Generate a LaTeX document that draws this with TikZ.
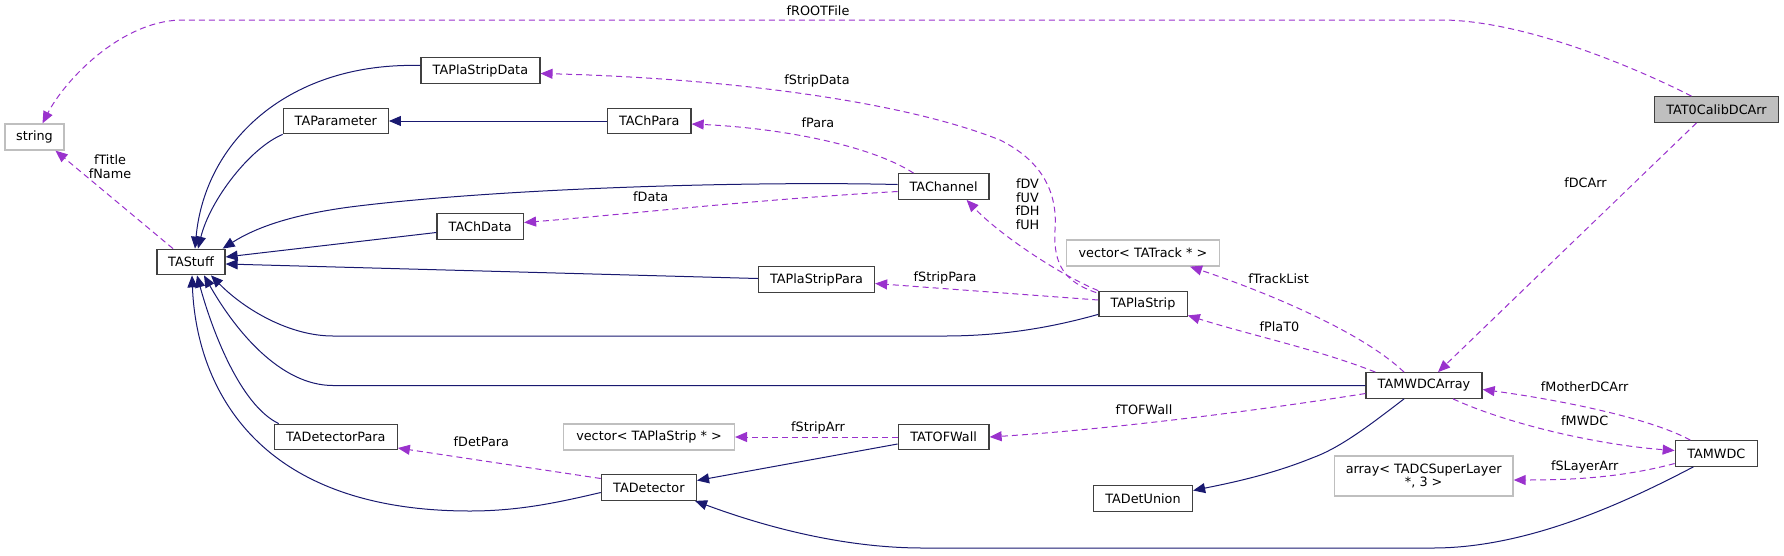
\documentclass[tikz,border=0pt]{standalone}
\usepackage{fontspec}
\setmainfont{DejaVu Sans}
\usetikzlibrary{arrows.meta,calc}
\definecolor{inhcol}{HTML}{191970}
\definecolor{usecol}{HTML}{9A32CD}
\definecolor{extcol}{HTML}{BFBFBF}
\definecolor{boxcol}{HTML}{404040}
\begin{document}
\begin{tikzpicture}[x=1pt,y=-1pt,
  every node/.style={font=\fontsize{12.8}{14.5}\selectfont, inner sep=0pt, align=center},
  cls/.style={draw=boxcol, line width=1.3pt, minimum height=25.5pt, fill=white},
  ext/.style={draw=extcol, line width=1.3pt, minimum height=26pt, fill=white},
  inh/.style={draw=inhcol, line width=1pt, -{Triangle[length=12pt,width=10pt]}, inhcol},
  use/.style={draw=usecol, line width=1pt, dash pattern=on 6pt off 4pt, -{Triangle[length=12pt,width=10pt]}, usecol},
  lbl/.style={text=black, align=center}]
\useasboundingbox (0,0) rectangle (1784,555);
% nodes
\node[ext, minimum width=59pt] (string) at (34.5,137) {string};
\node[cls, minimum width=68pt] (TAStuff) at (191,262) {TAStuff};
\node[cls, minimum width=119pt] (TAPlaStripData) at (480.4,70.5) {TAPlaStripData};
\node[cls, minimum width=105pt] (TAParameter) at (335.8,121) {TAParameter};
\node[cls, minimum width=83.4pt] (TAChPara) at (649.3,121) {TAChPara};
\node[cls, minimum width=90.8pt] (TAChannel) at (943.6,186.5) {TAChannel};
\node[cls, minimum width=86.5pt] (TAChData) at (480.2,226.5) {TAChData};
\node[cls, minimum width=116pt] (TAPlaStripPara) at (816.5,279.5) {TAPlaStripPara};
\node[cls, minimum width=88.3pt] (TAPlaStrip) at (1143,304) {TAPlaStrip};
\node[ext, minimum width=153.5pt] (vecTrack) at (1143,253) {vector< TATrack * >};
\node[cls, minimum width=90.8pt] (TATOFWall) at (943.6,437) {TATOFWall};
\node[ext, minimum width=170.8pt] (vecPlaStrip) at (649,437) {vector< TAPlaStrip * >};
\node[cls, minimum width=95pt] (TADetector) at (648.9,487.5) {TADetector};
\node[cls, minimum width=122.8pt] (TADetectorPara) at (335.8,437) {TADetectorPara};
\node[cls, minimum width=99pt] (TADetUnion) at (1143,498.5) {TADetUnion};
\node[cls, minimum width=116pt] (TAMWDCArray) at (1424,385.5) {TAMWDCArray};
\node[cls, minimum width=82pt] (TAMWDC) at (1716.3,453.5) {TAMWDC};
\node[ext, minimum width=178.7pt, minimum height=40pt] (array) at (1423.7,476) {array< TADCSuperLayer\\[-1pt]*, 3 >};
\node[cls, fill=extcol, minimum width=124.5pt] (TAT0) at (1716.5,109.5) {TAT0CalibDCArr};
% inheritance edges
\draw[inh] ($(TAPlaStripData.west)+(0,-5)$) .. controls (290,62) and (205,140) .. ($(TAStuff.north)+(4,0)$);
\draw[inh] (TAParameter.south west) .. controls (250,148) and (210,200) .. ($(TAStuff.north)+(7,0)$);
\draw[inh] (TAChPara.west) -- (TAParameter.east);
\draw[inh] ($(TAChannel.west)+(0,-2)$) .. controls (750,181) and (500,188) .. (350,207) .. controls (290,215) and (255,228) .. ($(TAStuff.north east)+(-3,0)$);
\draw[inh] ($(TAChData.west)+(0,6)$) -- ($(TAStuff.east)+(0,-5)$);
\draw[inh] ($(TAPlaStripPara.west)+(0,-1)$) -- ($(TAStuff.east)+(0,2)$);
\draw[inh] ($(TAPlaStrip.south west)+(0,-3)$) .. controls (1060,325) and (1010,336) .. (944,336) -- (333,336) .. controls (290,336) and (245,310) .. ($(TAStuff.south)+(20,0)$);
\draw[inh] (TAMWDCArray.west) -- (333,385.5) .. controls (280,385.5) and (235,330) .. ($(TAStuff.south)+(13,0)$);
\draw[inh] ($(TADetectorPara.north west)+(5,0)$) .. controls (240,405) and (212,330) .. ($(TAStuff.south)+(6,0)$);
\draw[inh] ($(TADetector.west)+(0,5)$) .. controls (560,502) and (520,511) .. (470,511) .. controls (250,511) and (196,380) .. ($(TAStuff.south)+(1,0)$);
\draw[inh] ($(TATOFWall.west)+(0,7)$) -- ($(TADetector.east)+(0,-7)$);
\draw[inh] ($(TAMWDC.south)+(-23,0)$) .. controls (1630,500) and (1530,548) .. (1433,548) -- (923,548) .. controls (840,548) and (760,525) .. ($(TADetector.south east)+(-2,0)$);
\draw[inh] ($(TAMWDCArray.south)+(-20,0)$) .. controls (1370,425) and (1340,448) .. (1312,458) .. controls (1270,475) and (1230,483) .. ($(TADetUnion.east)+(0,-8)$);
% usage edges
\draw[use] ($(TAT0.north)+(-25,0)$) .. controls (1640,70) and (1530,22) .. (1445,20) -- (180,20) .. controls (120,22) and (65,80) .. ($(string.north)+(8,0)$);
\draw[use] ($(TAT0.south)+(-20,0)$) -- ($(TAMWDCArray.north)+(14,0)$);
\draw[use] ($(TAStuff.north)+(-18,0)$) -- ($(string.south)+(21,0)$);
\draw[use] ($(TAPlaStrip.north west)+(-2,2)$) .. controls (1065,282) and (1053,265) .. (1055,230) .. controls (1058,190) and (1040,160) .. (1000,140) .. controls (900,100) and (720,78) .. ($(TAPlaStripData.east)+(0,3)$);
\draw[use] ($(TAChannel.north west)+(16,0)$) .. controls (870,145) and (780,128) .. ($(TAChPara.east)+(0,3)$);
\draw[use] ($(TAChannel.west)+(0,5)$) .. controls (750,200) and (620,215) .. ($(TAChData.east)+(0,-4)$);
\draw[use] (TAPlaStrip.north west) .. controls (1060,275) and (1000,235) .. ($(TAChannel.south)+(23,0)$);
\draw[use] ($(TAPlaStrip.west)+(0,-4)$) -- ($(TAPlaStripPara.east)+(0,4)$);
\draw[use] ($(TAMWDCArray.north)+(-20,0)$) .. controls (1360,330) and (1260,290) .. ($(vecTrack.south)+(47,0)$);
\draw[use] ($(TAMWDCArray.north west)+(10,0)$) .. controls (1320,350) and (1250,335) .. ($(TAPlaStrip.south east)+(0,-2)$);
\draw[use] ($(TAMWDCArray.west)+(0,8)$) .. controls (1250,412) and (1100,430) .. (TATOFWall.east);
\draw[use] (TATOFWall.west) -- (vecPlaStrip.east);
\draw[use] ($(TADetector.west)+(0,-9)$) -- ($(TADetectorPara.east)+(0,11)$);
\draw[use] ($(TAMWDC.north)+(-26,0)$) .. controls (1650,418) and (1560,400) .. ($(TAMWDCArray.east)+(0,4)$);
\draw[use] ($(TAMWDCArray.south)+(29,0)$) .. controls (1510,425) and (1600,445) .. ($(TAMWDC.west)+(0,-3)$);
\draw[use] ($(TAMWDC.west)+(0,10)$) .. controls (1620,478) and (1570,480) .. ($(array.east)+(0,4)$);
% labels
\node[lbl] (lROOT) at (818,11) {fROOTFile};
\node[lbl] (lDCArr) at (1585.5,183) {fDCArr};
\node[lbl] (lTitle) at (110,166.5) {fTitle\\[-1pt]fName};
\node[lbl] (lStripData) at (817,81) {fStripData};
\node[lbl] (lPara) at (818,123) {fPara};
\node[lbl] (lData) at (650.7,197) {fData};
\node[lbl] (lDV) at (1027.5,204) {fDV\\[-1pt]fUV\\[-1pt]fDH\\[-1pt]fUH};
\node[lbl] (lStripPara) at (945,278) {fStripPara};
\node[lbl] (lTrackList) at (1278.6,279) {fTrackList};
\node[lbl] (lPlaT0) at (1279.4,327) {fPlaT0};
\node[lbl] (lTOFWall) at (1144,410) {fTOFWall};
\node[lbl] (lStripArr) at (818,428) {fStripArr};
\node[lbl] (lDetPara) at (481.4,442) {fDetPara};
\node[lbl] (lMother) at (1584.7,387) {fMotherDCArr};
\node[lbl] (lMWDC) at (1584.7,421) {fMWDC};
\node[lbl] (lSLayer) at (1584.7,467) {fSLayerArr};
\end{tikzpicture}
\end{document}
